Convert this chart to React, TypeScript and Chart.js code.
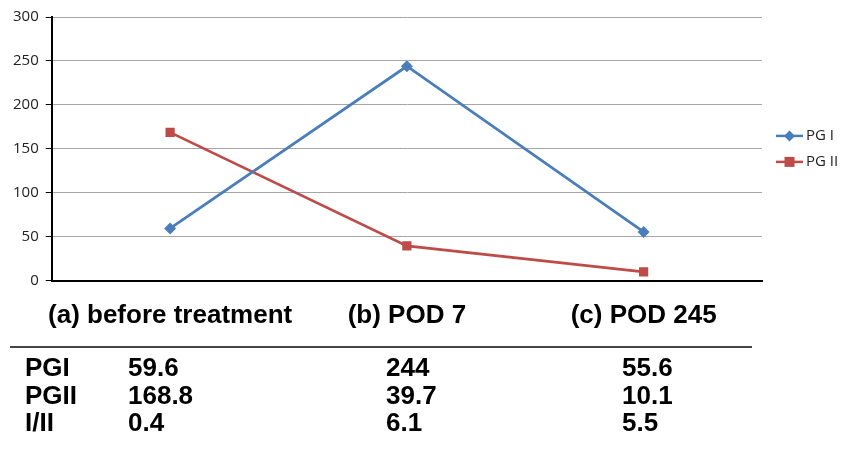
import React, { useEffect, useRef } from "react";
import { Chart, registerables } from "chart.js";

Chart.register(...registerables);

const categories = ["(a) before treatment", "(b) POD 7", "(c) POD 245"];
const seriesNames = ["PG I", "PG II"];
const pg1Values = [59.6, 244, 55.6];
const pg2Values = [168.8, 39.7, 10.1];
const tableRowLabels = ["PGI", "PGII", "I/II"];
const pg1Text = ["59.6", "244", "55.6"];
const pg2Text = ["168.8", "39.7", "10.1"];
const ratioText = ["0.4", "6.1", "5.5"];
const yTicks = [0, 50, 100, 150, 200, 250, 300];

const BLUE = "#4a7ebb";
const RED = "#be4b48";

const legendPlugin = {
  id: "customLegend",
  afterDraw(chart: any) {
    const ctx = chart.ctx;
    const ds = chart.data.datasets;
    const x0 = chart.chartArea.right + 14;
    const cy = (chart.chartArea.top + chart.chartArea.bottom) / 2;
    const gap = 26;
    ctx.save();
    ds.forEach((d: any, i: number) => {
      const y = cy - gap / 2 + i * gap;
      ctx.strokeStyle = d.borderColor;
      ctx.lineWidth = 2.5;
      ctx.beginPath();
      ctx.moveTo(x0, y);
      ctx.lineTo(x0 + 27, y);
      ctx.stroke();
      ctx.fillStyle = d.borderColor;
      const mx = x0 + 13.5;
      if (d.pointStyle === "rect") {
        ctx.fillRect(mx - 5, y - 5, 10, 10);
      } else {
        ctx.beginPath();
        ctx.moveTo(mx, y - 5.5);
        ctx.lineTo(mx + 5.5, y);
        ctx.lineTo(mx, y + 5.5);
        ctx.lineTo(mx - 5.5, y);
        ctx.closePath();
        ctx.fill();
      }
      ctx.fillStyle = "#222";
      ctx.font = "15px 'Open Sans'";
      ctx.textBaseline = "middle";
      ctx.textAlign = "left";
      ctx.fillText(d.label, x0 + 30, y);
    });
    ctx.restore();
  },
};

const tablePlugin = {
  id: "valueTable",
  afterDraw(chart: any) {
    const ctx = chart.ctx;
    ctx.save();
    ctx.strokeStyle = "#444";
    ctx.lineWidth = 2;
    ctx.beginPath();
    ctx.moveTo(10, 347);
    ctx.lineTo(752, 347);
    ctx.stroke();
    ctx.fillStyle = "#000";
    ctx.font = "bold 26px 'Liberation Sans', Arial";
    ctx.textBaseline = "middle";
    ctx.textAlign = "left";
    const cols = [128, 386, 622];
    const rows = [pg1Text, pg2Text, ratioText];
    const rowY = [369, 397, 424];
    rows.forEach((r, ri) => {
      ctx.fillText(tableRowLabels[ri], 25, rowY[ri]);
      r.forEach((t, ci) => ctx.fillText(t, cols[ci], rowY[ri]));
    });
    ctx.restore();
  },
};

export default function App() {
  const ref = useRef<HTMLCanvasElement>(null);
  useEffect(() => {
    document.body.style.margin = "0";
    const chart = new Chart(ref.current!, {
      type: "line",
      data: {
        labels: categories,
        datasets: [
          {
            label: seriesNames[0],
            data: pg1Values,
            borderColor: BLUE,
            backgroundColor: BLUE,
            borderWidth: 2.75,
            pointStyle: "rectRot",
            pointRadius: 6,
            pointBorderWidth: 0,
            tension: 0,
          },
          {
            label: seriesNames[1],
            data: pg2Values,
            borderColor: RED,
            backgroundColor: RED,
            borderWidth: 2.75,
            pointStyle: "rect",
            pointRadius: 6.5,
            pointBorderWidth: 0,
            tension: 0,
          },
        ],
      },
      options: {
        responsive: false,
        animation: false,
        layout: { padding: { top: 17, right: 87, bottom: 110, left: 6 } },
        plugins: { legend: { display: false }, tooltip: { enabled: false } },
        scales: {
          x: {
            offset: true,
            grid: { display: false },
            border: { display: true, color: "#000", width: 2 },
            ticks: {
              color: "#000",
              padding: 11,
              maxRotation: 0,
              autoSkip: false,
              font: { family: "'Liberation Sans', Arial", size: 26, weight: "bold" },
            },
          },
          y: {
            min: 0,
            max: 300,
            afterBuildTicks: (axis: any) => {
              axis.ticks = yTicks.map((v) => ({ value: v }));
            },
            grid: { color: "#a6a6a6", lineWidth: 1, tickColor: "#000", tickLength: 6 },
            border: { display: true, color: "#000", width: 2 },
            ticks: {
              color: "#222",
              padding: 7,
              font: { family: "'Open Sans'", size: 15 },
            },
          },
        },
      },
      plugins: [legendPlugin, tablePlugin],
    });
    return () => chart.destroy();
  }, []);
  return <canvas ref={ref} width={849} height={452} style={{ width: 849, height: 452, display: "block" }} />;
}
